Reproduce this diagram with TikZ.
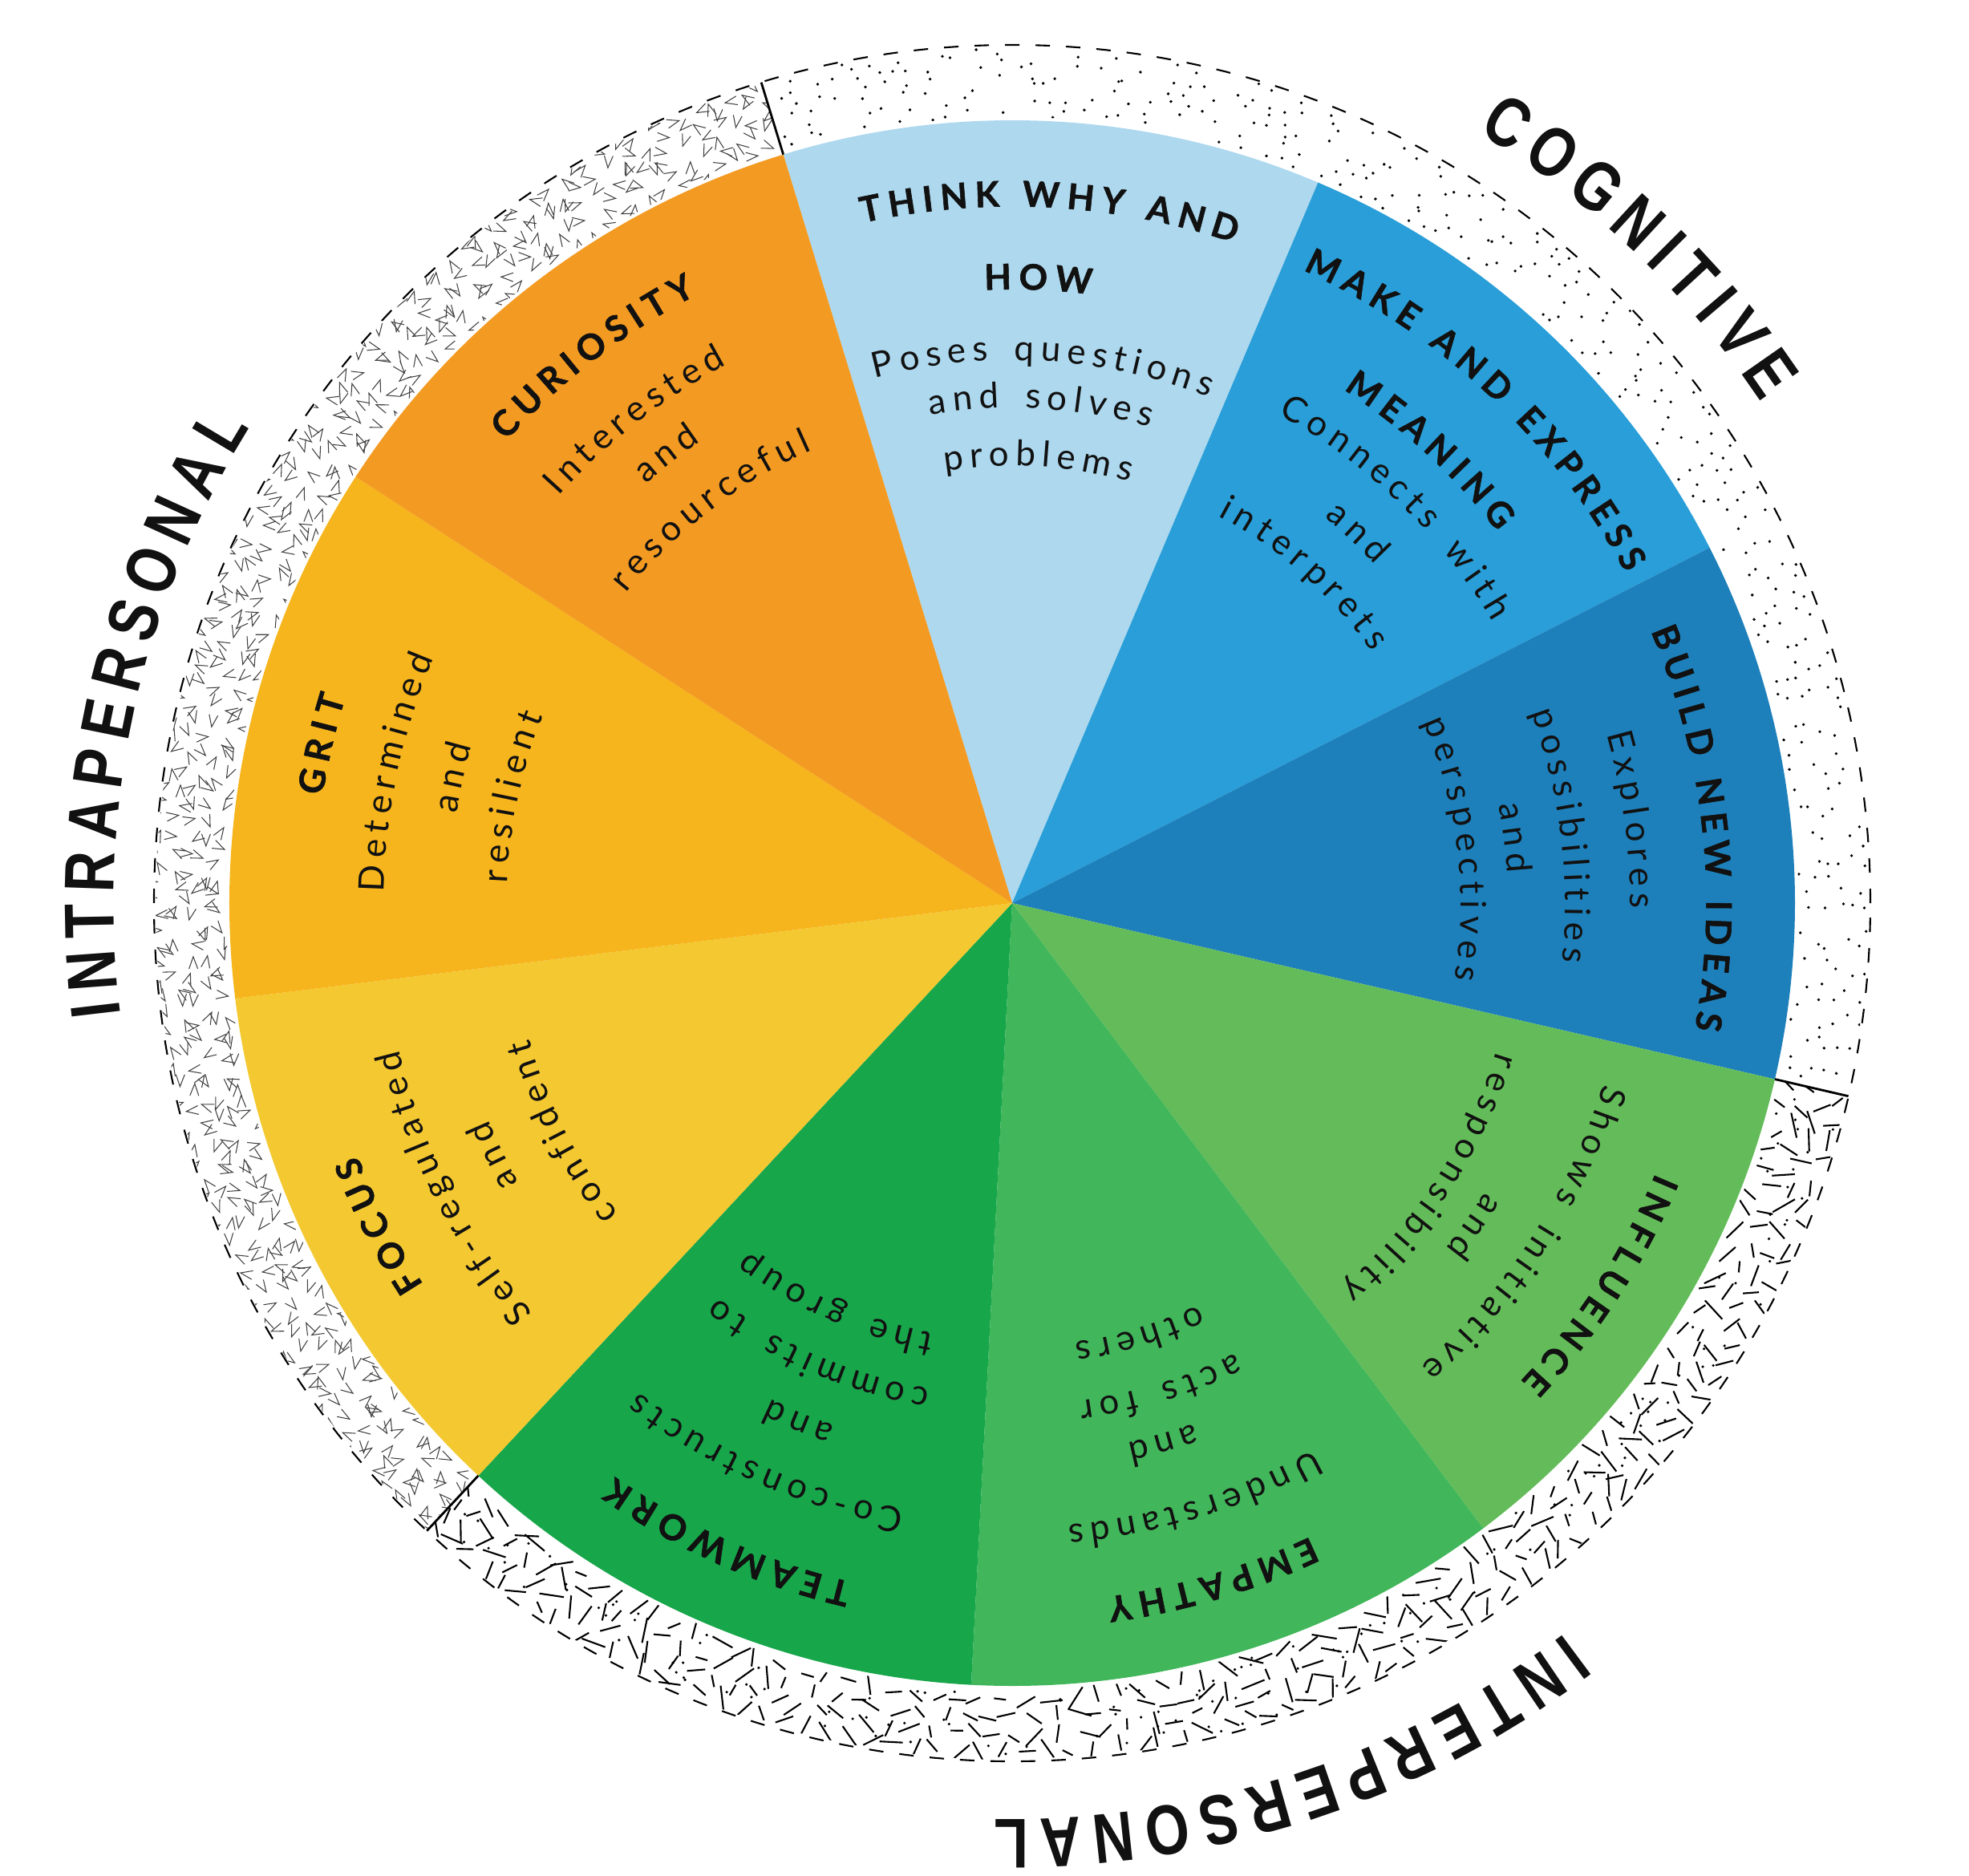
\documentclass[tikz,border=0pt]{standalone}
\usepackage{fontspec}
\newfontfamily\descfont{Lato}
\newfontfamily\titlefont[BoldFeatures={FakeBold=1.3}]{Lato}
\newfontfamily\ringfont[FakeStretch=0.8]{Liberation Sans}
\newcommand\dscf{\descfont\fontsize{12.5}{15}\selectfont}
\newcommand\ttlf{\titlefont\bfseries\fontsize{12.5}{15}\selectfont}
\newcommand\ringf{\ringfont\bfseries\fontsize{25}{30}\selectfont}
\definecolor{cThink}{HTML}{ADD8EE}
\definecolor{cMake}{HTML}{299ED8}
\definecolor{cBuild}{HTML}{1E80BB}
\definecolor{cInfl}{HTML}{63BC59}
\definecolor{cEmp}{HTML}{41B65A}
\definecolor{cTeam}{HTML}{18A64B}
\definecolor{cFocus}{HTML}{F4C830}
\definecolor{cGrit}{HTML}{F6B51C}
\definecolor{cCur}{HTML}{F39A22}
\definecolor{ink}{HTML}{111111}
\makeatletter
\newdimen\totlen
\newdimen\acclen
\def\fnt@d{\dscf}\def\fnt@t{\ttlf}\def\fnt@r{\ringf}
\newcommand\measureset[1]{\@tfor\ch:=ABCDEFGHIJKLMNOPQRSTUVWXYZabcdefghijklmnopqrstuvwxyz-\do{\setbox0\hbox{\csname fnt@#1\endcsname\ch}\expandafter\xdef\csname cw@#1@\ch\endcsname{\strip@pt\wd0}}}
\newcommand\measureword[1]{\@tfor\ch:=#1\do{\edef\chw{\csname cw@\curstyle @\ch\endcsname}\global\advance\totlen by \chw pt\relax\global\advance\totlen by \curls pt\relax}}
\newcommand\placeword[1]{\@tfor\ch:=#1\do{%
  \edef\chw{\csname cw@\curstyle @\ch\endcsname}\edef\accv{\strip@pt\acclen}%
  \pgfmathsetmacro\chang{\startang-(\accv+0.5*\chw)/\radpt*57.29578}%
  \node[anchor=base,inner sep=0pt,outer sep=0pt,text=ink,rotate=\chang-90,font=\curfont] at (\chang:\radcm) {\ch};%
  \global\advance\acclen by \chw pt\relax\global\advance\acclen by \curls pt\relax}}
\newcommand\arcwords[6]{%
  \def\curstyle{#3}\expandafter\let\expandafter\curfont\csname fnt@#3\endcsname\def\curls{#4}\def\curgap{#5}%
  \global\totlen=0pt\relax
  \foreach \w [count=\n] in {#6}{\ifnum\n>1 \global\advance\totlen by \curgap pt\relax\fi\expandafter\measureword\expandafter{\w}}%
  \global\advance\totlen by -\curls pt\relax
  \edef\totv{\strip@pt\totlen}%
  \pgfmathsetmacro\radcm{#2}%
  \pgfmathsetmacro\radpt{\radcm*28.45274}%
  \pgfmathsetmacro\startang{#1+0.5*\totv/\radpt*57.29578}%
  \global\acclen=0pt\relax
  \foreach \w [count=\n] in {#6}{\ifnum\n>1 \global\advance\acclen by \curgap pt\relax\fi\expandafter\placeword\expandafter{\w}}%
}
\makeatother
\newcommand\ttl[3]{\arcwords{#1}{#2*0.015657-0.16}{t}{2.5}{5.5}{#3}}
\newcommand\dsc[3]{\arcwords{#1}{#2*0.015657-0.12}{d}{2.2}{7}{#3}}
\newcommand\ringlbl[3]{\arcwords{#1}{#2*0.015657-0.32}{r}{3.8}{8}{#3}}
\newcommand\slice[3]{\fill[#3] (0,0) -- (#1:9.76) arc[start angle=#1,end angle=#2,radius=9.76] -- cycle;}
\tikzset{
  chev/.style={line width=0.3pt,line join=miter,draw=black!75},
  dashmark/.style={line width=0.6pt},
  sep/.style={line width=0.8pt},
  rim/.style={line width=0.6pt,dash pattern=on 0.18cm off 0.2cm}
}
\begin{document}
\measureset{d}\measureset{t}\measureset{r}%
\begin{tikzpicture}
\useasboundingbox (-12.62,-12.12) rectangle (11.93,11.26);
% wheel
\slice{67}{107}{cThink}
\slice{27}{67}{cMake}
\slice{-13}{27}{cBuild}
\slice{-53}{-13}{cInfl}
\slice{-93}{-53}{cEmp}
\slice{-133}{-93}{cTeam}
\slice{-173}{-133}{cFocus}
\slice{147}{187}{cGrit}
\slice{107}{147}{cCur}
\pgfmathsetseed{4242}
% intrapersonal texture: chevrons
\begin{scope}
\clip (107:9.8) arc[start angle=107,end angle=227,radius=9.8] -- (227:10.68) arc[start angle=227,end angle=107,radius=10.68] -- cycle;
\foreach \k in {0,...,4}{
  \pgfmathsetmacro\rr{9.88+0.19*\k}
  \pgfmathsetmacro\st{0.21/\rr*57.2958}
  \pgfmathtruncatemacro\nn{126/\st}
  \foreach \j in {0,...,\nn}{
    \pgfmathsetmacro\ta{104+\j*\st+0.5*\st*(rnd-0.5)}
    \pgfmathsetmacro\tr{\rr+0.08*(rnd-0.5)}
    \pgfmathsetmacro\to{360*rnd}
    \draw[chev] (\ta:\tr) ++({\to}:0.16) -- (\ta:\tr) -- ++({\to+40}:0.16);
  }
}
\end{scope}
% interpersonal texture: strokes and dots
\begin{scope}
\clip (-133:9.8) arc[start angle=-133,end angle=-13,radius=9.8] -- (-13:10.68) arc[start angle=-13,end angle=-133,radius=10.68] -- cycle;
\foreach \k in {0,...,3}{
  \pgfmathsetmacro\rr{9.93+0.22*\k}
  \pgfmathsetmacro\st{0.28/\rr*57.2958}
  \pgfmathtruncatemacro\nn{126/\st}
  \foreach \j in {0,...,\nn}{
    \pgfmathsetmacro\ta{-136+\j*\st+0.6*\st*(rnd-0.5)}
    \pgfmathsetmacro\tr{\rr+0.1*(rnd-0.5)}
    \pgfmathsetmacro\to{180*rnd}
    \pgfmathsetmacro\tl{0.07+0.09*rnd}
    \draw[dashmark] (\ta:\tr) ++({\to}:{\tl}) -- ++({\to+180}:{2*\tl});
  }
}
\foreach \i in {1,...,150}{
  \fill ({-136+126*rnd}:{9.8+0.86*rnd}) circle[radius=0.018];
}
\end{scope}
% cognitive texture: dots
\begin{scope}
\clip (-13:9.8) arc[start angle=-13,end angle=107,radius=9.8] -- (107:10.68) arc[start angle=107,end angle=-13,radius=10.68] -- cycle;
\foreach \k in {0,...,5}{
  \pgfmathsetmacro\rr{9.87+0.15*\k}
  \pgfmathsetmacro\st{0.25/\rr*57.2958}
  \foreach \j in {0,...,94}{
    \pgfmathsetmacro\ta{-14+\j*\st+\st*0.9*(rnd-0.5)}
    \pgfmathsetmacro\keep{rnd}
    \ifdim\keep pt>0.35pt \fill ({\ta}:{\rr+0.12*(rnd-0.5)}) circle[radius=0.019]; \fi
  }
}
\end{scope}
% rim and separators
\draw[rim] (0,0) circle[radius=10.7];
\draw[sep] (107:9.76) -- (107:10.7);
\draw[sep] (-13:9.76) -- (-13:10.7);
\draw[sep] (-133:9.76) -- (-133:10.7);
% think why and how
\ttl{86.9}{565}{THINK,WHY,AND}
\ttl{87.6}{499}{HOW}
\dsc{86.7}{440}{Poses,questions}
\dsc{86.7}{402}{and,solves}
\dsc{86.6}{356}{problems}
% make and express meaning
\ttl{46.8}{565}{MAKE,AND,EXPRESS}
\ttl{47.3}{497}{MEANING}
\dsc{45.9}{451}{Connects,with}
\dsc{47}{403}{and}
\dsc{48.5}{357}{interprets}
% build new ideas
\ttl{6.3}{563}{BUILD,NEW,IDEAS}
\dsc{7.7}{500}{Explores}
\dsc{7}{448}{possibilities}
\dsc{7.4}{403}{and}
\dsc{7}{365}{perspectives}
% influence
\ttl{-33}{566}{INFLUENCE}
\dsc{-32.8}{500}{Shows,initiative}
\dsc{-35}{449}{and}
\dsc{-33.3}{411}{responsibility}
% empathy
\ttl{-73.5}{568}{EMPATHY}
\dsc{-73}{505}{Understands}
\dsc{-74.4}{447}{and}
\dsc{-73}{408}{acts,for}
\dsc{-73.5}{361}{others}
% teamwork
\ttl{-114}{566}{TEAMWORK}
\dsc{-113.7}{498}{Co-constructs}
\dsc{-112.4}{447}{and}
\dsc{-113.2}{400}{commits,to}
\dsc{-113.7}{356}{the,group}
% focus
\ttl{-153}{569}{FOCUS}
\dsc{-153}{510}{Self-regulated}
\dsc{-154}{459}{and}
\dsc{-153}{407}{confident}
% grit
\ttl{167}{566}{GRIT}
\dsc{168}{508}{Determined}
\dsc{167.3}{456}{and}
\dsc{168}{410}{resilient}
% curiosity
\ttl{127.5}{556}{CURIOSITY}
\dsc{128}{493}{Interested}
\dsc{127.6}{451}{and}
\dsc{127.5}{402}{resourceful}
% ring labels
\ringlbl{46.3}{738}{COGNITIVE}
\ringlbl{167.6}{736}{INTRAPERSONAL}
\ringlbl{-72}{750}{INTERPERSONAL}
\end{tikzpicture}
\end{document}
